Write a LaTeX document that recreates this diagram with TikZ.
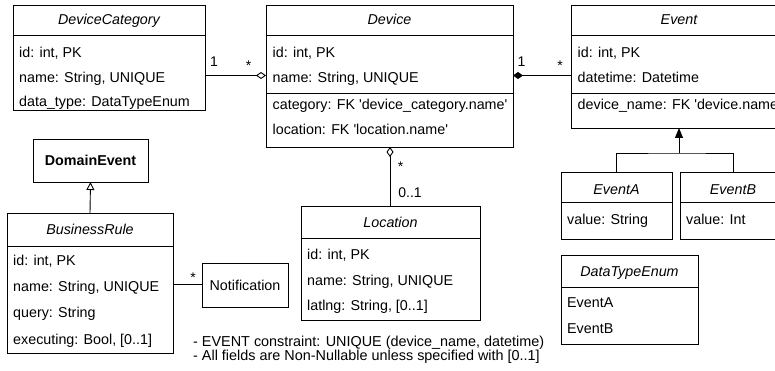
\documentclass[tikz,border=0pt]{standalone}
\usepackage{fontspec}
\setmainfont{Liberation Sans}
\usetikzlibrary{arrows.meta}
\newcommand{\sq}{\textquotesingle}
\begin{document}
\begin{tikzpicture}[x=1pt,y=-1pt,
  umlbox/.style={draw, line width=0.9pt, inner sep=0pt, outer sep=0pt, anchor=north west},
  attr/.style={anchor=base west, inner sep=0pt, font=\fontsize{14.3}{16}\selectfont},
  ttl/.style={anchor=base, inner sep=0pt, font=\fontsize{14.3}{16}\selectfont\itshape},
  sepline/.style={line width=0.9pt},
  conn/.style={line width=0.9pt},
  mult/.style={anchor=base, inner sep=0pt, font=\fontsize{14}{16}\selectfont},
  note/.style={anchor=base west, inner sep=0pt, font=\fontsize{14.4}{14}\selectfont}]
\useasboundingbox (0,0) rectangle (775,371);
\clip (0,0) rectangle (775,371);

% DeviceCategory
\node[umlbox, minimum width=192pt, minimum height=105pt] (dc) at (13,5) {};
\draw[sepline] (dc.west |- 0,35) -- (dc.east |- 0,35);
\node[ttl] (dct) at (109,25) {DeviceCategory};
\node[attr] (dc1) at (19,58) {id: int, PK};
\node[attr] (dc2) at (19,82.5) {name: String, UNIQUE};
\node[attr] (dc3) at (19,107) {data\_type: DataTypeEnum};

% Device
\node[umlbox, minimum width=247pt, minimum height=142pt] (dev) at (266,5) {};
\draw[sepline] (dev.west |- 0,35) -- (dev.east |- 0,35);
\draw[sepline] (dev.west |- 0,93) -- (dev.east |- 0,93);
\node[ttl] (devt) at (389.5,25) {Device};
\node[attr] (dev1) at (272.5,58) {id: int, PK};
\node[attr] (dev2) at (272.5,83) {name: String, UNIQUE};
\node[attr] (dev3) at (272.5,110) {category: FK \sq device\_category.name\sq};
\node[attr] (dev4) at (272.5,135) {location: FK \sq location.name\sq};

% Event
\node[umlbox, minimum width=216pt, minimum height=123pt] (ev) at (571,5) {};
\draw[sepline] (ev.west |- 0,35) -- (ev.east |- 0,35);
\draw[sepline] (ev.west |- 0,93) -- (ev.east |- 0,93);
\node[ttl] (evt) at (679,25) {Event};
\node[attr] (ev1) at (577.5,58) {id: int, PK};
\node[attr] (ev2) at (577.5,83) {datetime: Datetime};
\node[attr] (ev3) at (577.5,110) {device\_name: FK \sq device.name\sq};

% EventA, EventB
\node[umlbox, minimum width=111pt, minimum height=67pt] (ea) at (561,172) {};
\draw[sepline] (ea.west |- 0,202) -- (ea.east |- 0,202);
\node[ttl] (eat) at (616.5,194.5) {EventA};
\node[attr] (ea1) at (567,225) {value: String};
\node[umlbox, minimum width=106pt, minimum height=67pt] (eb) at (680,172) {};
\draw[sepline] (eb.west |- 0,202) -- (eb.east |- 0,202);
\node[ttl] (ebt) at (733,194.5) {EventB};
\node[attr] (eb1) at (686,225) {value: Int};

% DataTypeEnum
\node[umlbox, minimum width=137pt, minimum height=89pt] (dt) at (561,255) {};
\draw[sepline] (dt.west |- 0,287) -- (dt.east |- 0,287);
\node[ttl] (dtt) at (629.5,276) {DataTypeEnum};
\node[attr] (dt1) at (567,307) {EventA};
\node[attr] (dt2) at (567,333) {EventB};

% DomainEvent
\node[umlbox, minimum width=115pt, minimum height=43pt] (de) at (33,139) {};
\node[anchor=base, inner sep=0pt, font=\fontsize{14.3}{16}\selectfont\bfseries] (det) at (90.5,166) {DomainEvent};

% BusinessRule
\node[umlbox, minimum width=166pt, minimum height=140pt] (br) at (7,213) {};
\draw[sepline] (br.west |- 0,246) -- (br.east |- 0,246);
\node[ttl] (brt) at (90,234) {BusinessRule};
\node[attr] (br1) at (13,265) {id: int, PK};
\node[attr] (br2) at (13,291.5) {name: String, UNIQUE};
\node[attr] (br3) at (13,317.5) {query: String};
\node[attr] (br4) at (13,344) {executing: Bool, [0..1]};

% Notification
\node[umlbox, minimum width=86pt, minimum height=44pt] (nt) at (202,263) {};
\node[anchor=base, inner sep=0pt, font=\fontsize{14.3}{16}\selectfont] (ntt) at (245,290) {Notification};

% Location
\node[umlbox, minimum width=179pt, minimum height=114pt] (loc) at (301,206) {};
\draw[sepline] (loc.west |- 0,238) -- (loc.east |- 0,238);
\node[ttl] (loct) at (390.5,227) {Location};
\node[attr] (loc1) at (307,259) {id: int, PK};
\node[attr] (loc2) at (307,285) {name: String, UNIQUE};
\node[attr] (loc3) at (307,310) {latlng: String, [0..1]};

% Connectors
\draw[conn, -{Diamond[open,length=10pt,width=7pt]}] (dc.east |- 0,75.5) -- (dev.west |- 0,75.5);
\node[mult] (m1) at (214,67) {1};
\node[mult] (m2) at (248.5,71) {*};

\draw[conn, {Diamond[length=10pt,width=7pt]}-] (dev.east |- 0,75.5) -- (ev.west |- 0,75.5);
\node[mult] (m3) at (521.5,67) {1};
\node[mult] (m4) at (560,71) {*};

\draw[conn, {Diamond[open,length=10pt,width=7pt]}-] (dev.south -| 390,0) -- (loc.north -| 390,0);
\node[mult] (m5) at (400.7,172) {*};
\node[mult] (m6) at (410,198) {0..1};

\coordinate (evj) at (679,153);
\draw[conn] (ea.north) |- (evj) -| (eb.north);
\draw[conn, -{Triangle[length=10pt,width=8pt]}] (evj) -- (ev.south -| evj);

\draw[conn, -{Triangle[open,length=8pt,width=8pt]}] (br.north) -- (de.south);

\draw[conn] (br.east |- 0,284) -- (nt.west |- 0,284);
\node[mult] (m7) at (193,282) {*};

% Notes
\node[note] (n1) at (193,346.5) {- EVENT constraint: UNIQUE (device\_name, datetime)};
\node[note] (n2) at (193,360.5) {- All fields are Non-Nullable unless specified with [0..1]};
\end{tikzpicture}
\end{document}
